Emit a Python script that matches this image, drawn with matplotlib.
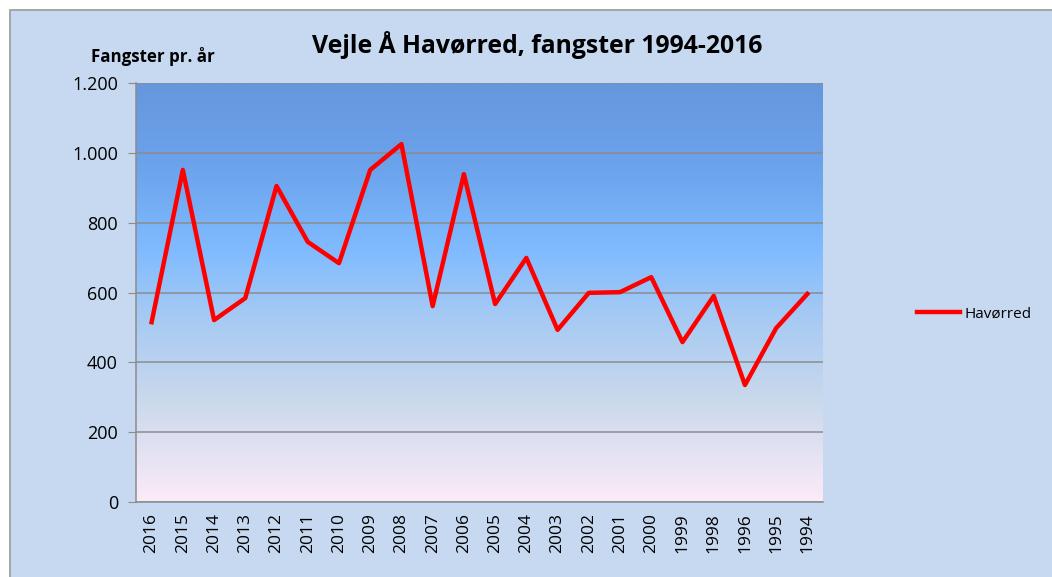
import numpy as np
import matplotlib
matplotlib.use("Agg")
from matplotlib import pyplot as plt
from matplotlib.colors import LinearSegmentedColormap
from matplotlib.patches import Rectangle

years = ['2016', '2015', '2014', '2013', '2012', '2011', '2010', '2009', '2008', '2007', '2006',
         '2005', '2004', '2003', '2002', '2001', '2000', '1999', '1998', '1996', '1995', '1994']
havorred = [515, 951, 521, 584, 905, 745, 684, 951, 1025, 561, 939,
            567, 699, 493, 599, 601, 644, 458, 590, 335, 498, 596]
yticks = [0, 200, 400, 600, 800, 1000, 1200]
ytick_labels = ['0', '200', '400', '600', '800', '1.000', '1.200']

plt.rcParams['font.family'] = ['Open Sans', 'DejaVu Sans']

fig = plt.figure(figsize=(10.52, 5.77), dpi=100)
fig.patch.set_facecolor('white')
# chart area frame
fig.patches.append(Rectangle((10 / 1052, -0.01), 1.0, 1.01 - 10 / 577, transform=fig.transFigure,
                             facecolor='#C6D9F1', edgecolor='#9A9A9A', linewidth=1.2, zorder=-10))

ax = fig.add_axes([136 / 1052, 75 / 577, 687 / 1052, 419 / 577])
ax.set_zorder(1)
ax.set_facecolor('none')

# gradient background for plot area
cmap = LinearSegmentedColormap.from_list('bg', [
    (0.0, '#FCEBF8'), (0.25, '#C8D8EC'), (0.45, '#A4C9F4'),
    (0.6, '#80BBFF'), (0.8, '#6BA3EC'), (1.0, '#6697DD')])
grad = np.linspace(0, 1, 256).reshape(-1, 1)
ax.imshow(grad, cmap=cmap, aspect='auto', origin='lower', extent=[0, 1, 0, 1],
          transform=ax.transAxes, zorder=0)

x = np.arange(len(years))
ax.plot(x, havorred, color='#FF0000', linewidth=3.2, solid_joinstyle='round',
        label='Havørred', zorder=3)

ax.set_xlim(-0.5, len(years) - 0.5)
ax.set_ylim(0, 1200)
ax.set_yticks(yticks)
ax.set_yticklabels(ytick_labels, fontsize=13)
ax.set_xticks(x)
ax.set_xticklabels(years, rotation=90, fontsize=12.5)
ax.grid(axis='y', color='#8C8C8C', linewidth=1.1, zorder=1)
ax.set_axisbelow(False)
ax.tick_params(axis='y', length=6, color='#8C8C8C', pad=7)
ax.tick_params(axis='x', length=0, pad=8)
for s in ['top', 'right']:
    ax.spines[s].set_visible(False)
for s in ['left', 'bottom']:
    ax.spines[s].set_color('#8C8C8C')
    ax.spines[s].set_linewidth(1.1)

fig.text(537 / 1052, 1 - 45 / 577, 'Vejle Å Havørred, fangster 1994-2016', fontsize=17.8,
         fontweight='bold', ha='center', va='center')
fig.text(153 / 1052, 1 - 57 / 577, 'Fangster pr. år', fontsize=12.2, fontweight='bold',
         ha='center', va='center')

leg = ax.legend(loc='center left', bbox_to_anchor=(903 / 1052, 1 - 314 / 577),
                bbox_transform=fig.transFigure, frameon=False, fontsize=11,
                handlelength=2.8, handletextpad=0.3)

fig.savefig('out.png', dpi=100)
